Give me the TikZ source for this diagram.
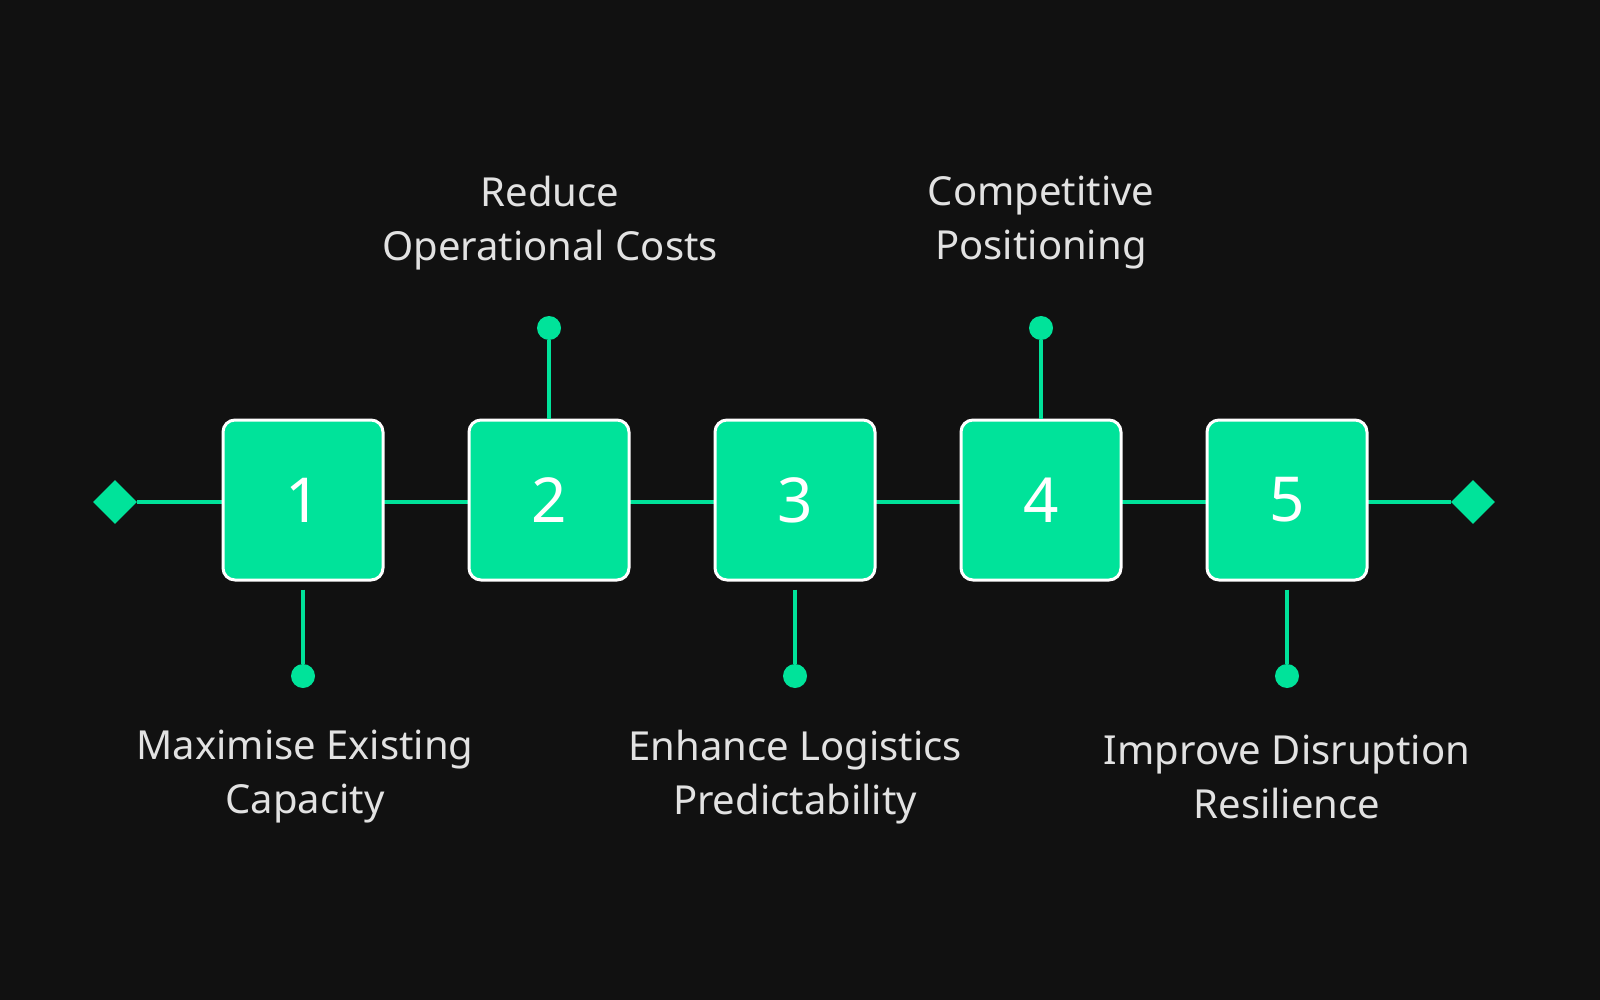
\documentclass[tikz,border=0pt]{standalone}
\usepackage{fontspec}
\setmainfont{Noto Sans}
\usetikzlibrary{shapes.geometric}
\begin{document}
\begin{tikzpicture}[x=1pt,y=-1pt,
  box/.style={draw=white,line width=3pt,fill=grn,rounded corners=12pt,minimum size=160pt,inner sep=0pt,font=\fontsize{62}{62}\selectfont\bfseries,text=white},
  lab/.style={align=center,text=txt,font=\fontsize{40}{54}\selectfont\bfseries},
  ln/.style={draw=grn,line width=4pt},
  dot/.style={circle,fill=grn,minimum size=24pt,inner sep=0pt},
  dia/.style={diamond,fill=grn,minimum size=44pt,inner sep=0pt}]
\definecolor{grn}{HTML}{00E39A}
\definecolor{txt}{HTML}{E2E2E2}
\definecolor{bg}{HTML}{111111}
\fill[bg] (0,0) rectangle (1600,1000);
\useasboundingbox (0,0) rectangle (1600,1000);
\node[dia] (dl) at (115,502) {};
\node[dia] (dr) at (1473,502) {};
\draw[ln] (dl) -- (dr);
\foreach \i/\x in {1/303,2/549,3/795,4/1041,5/1287}{
  \node[box] (b\i) at (\x,500) {\i};
}
% stems
\node[dot] (d1) at (303,676) {};
\node[dot] (d2) at (549,328) {};
\node[dot] (d3) at (795,676) {};
\node[dot] (d4) at (1041,328) {};
\node[dot] (d5) at (1287,676) {};
\draw[ln] (b1.south) ++(0,8) coordinate (s1) (s1) -- (d1);
\draw[ln] (b2.north) -- (d2);
\draw[ln] (b3.south) ++(0,8) coordinate (s3) (s3) -- (d3);
\draw[ln] (b4.north) -- (d4);
\draw[ln] (b5.south) ++(0,8) coordinate (s5) (s5) -- (d5);
\node[lab] (t1) at (305,777) {Maximise Existing\\Capacity};
\node[lab] (t2) at (550,223) {Reduce\\Operational Costs};
\node[lab] (t3) at (795,777) {Enhance Logistics\\Predictability};
\node[lab] (t4) at (1041,223) {Competitive\\Positioning};
\node[lab] (t5) at (1287,777) {Improve Disruption\\Resilience};
\end{tikzpicture}
\end{document}
